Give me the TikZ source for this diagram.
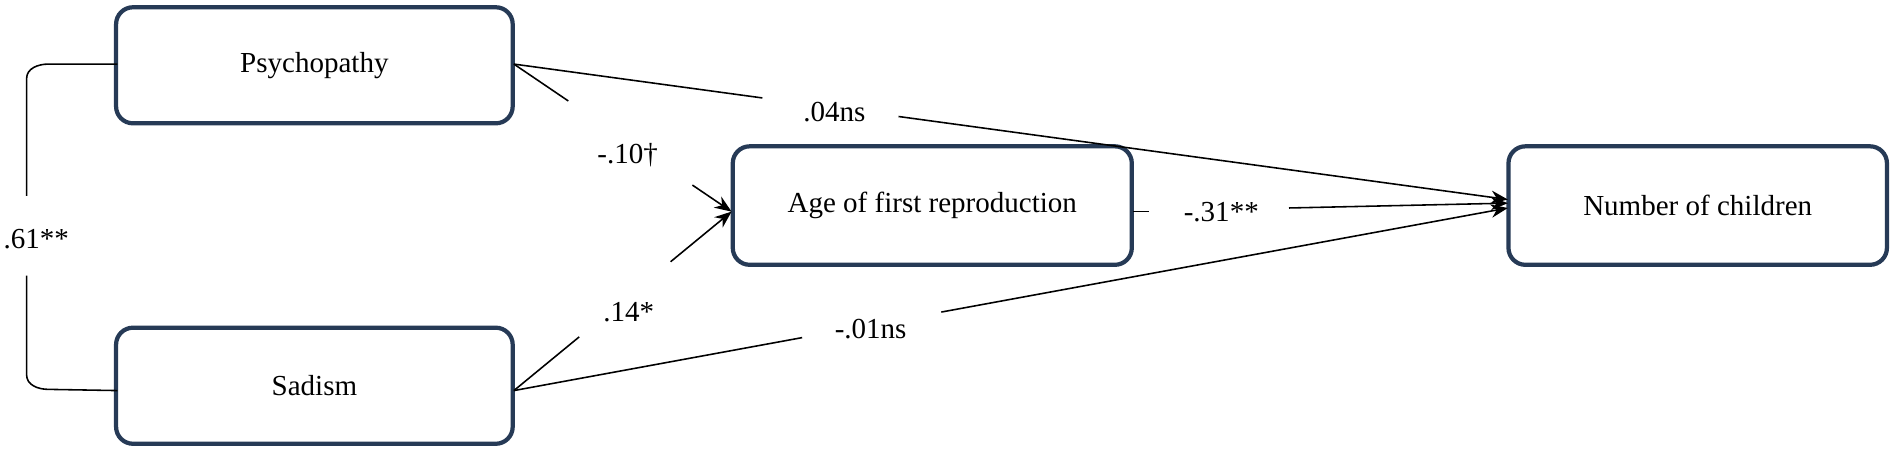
\documentclass[tikz,border=0pt]{standalone}
\usepackage{fontspec}
\setmainfont{Liberation Serif}
\usetikzlibrary{arrows.meta,calc}
\definecolor{navy}{HTML}{263A56}
\begin{document}
\begin{tikzpicture}[x=1pt,y=-1pt,
  box/.style={draw=navy,line width=3.5pt,rounded corners=14pt,fill=white,font=\fontsize{24}{28}\selectfont},
  lab/.style={font=\fontsize{24}{28}\selectfont,inner sep=1pt},
  conn/.style={line width=1.3pt},
  arr/.style={line width=1.3pt,-{Stealth[length=14pt,width=11pt]}}]
\useasboundingbox (0,0) rectangle (1568,375);
\node[box,minimum width=328pt,minimum height=96pt] (psy) at (260,54) {Psychopathy};
\node[box,minimum width=328pt,minimum height=96pt] (sad) at (260,319) {Sadism};
\node[box,minimum width=330pt,minimum height=98pt] (age) at (771,170) {Age of first reproduction};
\node[box,minimum width=313pt,minimum height=98pt] (num) at (1404,170) {Number of children};
\coordinate (pr) at (425,53);
\coordinate (sr) at (425,323);
\coordinate (al) at (605,175);
\coordinate (ar) at (937,175);
\coordinate (n1) at (1247,165);
\coordinate (n2) at (1247,172);
\coordinate (n3) at (1247,168);
% correlation bracket
\draw[conn] (97,53) -- (40,53) to[out=180,in=90] (22,65) -- (22,162);
\draw[conn] (22,228) -- (22,310) to[out=-90,in=180] (40,322) -- (97,323);
\node[lab] (r) at (30,198) {.61**};
% Psychopathy -> Number
\draw[conn] (pr) -- ($(pr)!0.25!(n1)$);
\draw[arr] ($(pr)!0.387!(n1)$) -- (n1);
\node[lab] (l1) at (690,93) {.04ns};
% Psychopathy -> Age
\draw[conn] (pr) -- ($(pr)!0.25!(al)$);
\draw[arr] ($(pr)!0.82!(al)$) -- (al);
\node[lab] (l2) at (519,128) {-.10†};
% Sadism -> Age
\draw[conn] (sr) -- ($(sr)!0.3!(al)$);
\draw[arr] ($(sr)!0.72!(al)$) -- (al);
\node[lab] (l3) at (520,258) {.14*};
% Sadism -> Number
\draw[conn] (sr) -- ($(sr)!0.29!(n2)$);
\draw[arr] ($(sr)!0.43!(n2)$) -- (n2);
\node[lab] (l4) at (720,272) {-.01ns};
% Age -> Number
\draw[conn] (ar) -- (950,175);
\draw[arr] (1066,172) -- (n3);
\node[lab] (l5) at (1010,175) {-.31**};
\end{tikzpicture}
\end{document}
